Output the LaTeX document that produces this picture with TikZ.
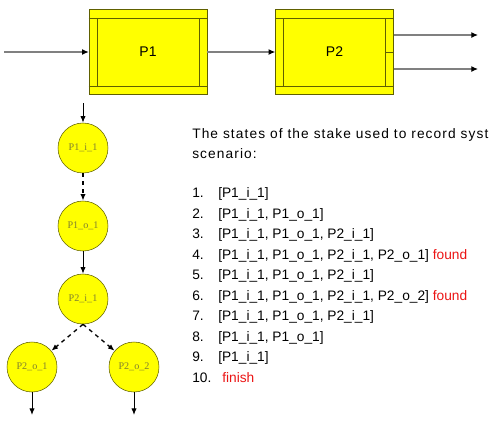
\documentclass[tikz,border=0pt]{standalone}
\usepackage{fontspec}
\setmainfont{Liberation Sans}
\newfontfamily\statefont{Liberation Serif}
\usetikzlibrary{positioning,calc,arrows.meta}
\definecolor{boxyellow}{RGB}{255,255,0}
\definecolor{edgeolive}{RGB}{96,96,0}
\definecolor{labelolive}{RGB}{128,128,48}
\definecolor{wiregray}{RGB}{128,128,128}
\definecolor{foundred}{RGB}{235,20,20}

\begin{document}
\begin{tikzpicture}[
    x=0.75pt, y=-0.75pt,
    procbox/.style={
      draw=edgeolive, fill=boxyellow, inner sep=0pt,
      minimum width=88.5pt, minimum height=63.75pt,
      font=\fontsize{10.5}{12}\selectfont
    },
    state/.style={
      circle, draw=edgeolive, fill=boxyellow, inner sep=0pt,
      minimum size=37.5pt, text=labelolive,
      font=\statefont\fontsize{7.6}{9}\selectfont
    },
    wire/.style={draw=wiregray, line width=0.9pt, -{Latex[length=5pt,width=4.5pt,color=black]}},
    hop/.style={draw=black, line width=0.7pt, -{Latex[length=5pt,width=4pt]}},
    jump/.style={hop, dashed, line width=1pt},
    listline/.style={anchor=base west, inner sep=0pt, font=\fontsize{10.3}{12}\selectfont}
  ]
  \clip (0,0) rectangle (495,437);

  % the two processes
  \node[procbox] (p1) at (148,52) {P1};
  \node[procbox] (p2) at (334.5,52) {P2};
  \foreach \b in {p1,p2} {
    \draw[edgeolive, line width=0.5pt] ($(\b.north west)+(0,9)$) -- ($(\b.north east)+(0,9)$);
    \draw[edgeolive, line width=0.5pt] ($(\b.south west)+(0,-8)$) -- ($(\b.south east)+(0,-8)$);
    \draw[edgeolive, line width=0.5pt] ($(\b.north west)+(8.5,9)$) -- ($(\b.south west)+(8.5,-8)$);
    \draw[edgeolive, line width=0.5pt] ($(\b.north east)+(-8,9)$) -- ($(\b.south east)+(-8,-8)$);
  }
  \draw[edgeolive, line width=0.5pt] (p2.east) -- ++(-8,0);

  \coordinate (src) at (4,52);
  \coordinate (sink1) at (478,35);
  \coordinate (sink2) at (478,69);
  \draw[wire] (src) -- (p1);
  \draw[wire] (p1) -- (p2);
  \draw[wire] (p2.east |- sink1) -- (sink1);
  \draw[wire] (p2.east |- sink2) -- (sink2);

  % state tree
  \node[state] (i11) at (83,148) {P1\_i\_1};
  \node[state] (o11) at (83,226) {P1\_o\_1};
  \node[state] (i21) at (83,299) {P2\_i\_1};
  \node[state] (o21) at (32,367) {P2\_o\_1};
  \node[state] (o22) at (134,367) {P2\_o\_2};
  \coordinate (enter) at (83,103);
  \coordinate (leave1) at (32,415);
  \coordinate (leave2) at (134,415);
  \draw[hop] (enter) -- (i11);
  \draw[jump] (i11) -- (o11);
  \draw[hop] (o11) -- (i21);
  \draw[jump] (i21.south) -- (o21);
  \draw[jump] (i21.south) -- (o22);
  \draw[hop] (o21) -- (leave1);
  \draw[hop] (o22) -- (leave2);

  % stack trace
  \node[listline] (head1) at (192,138) {\addfontfeatures{LetterSpace=8}The states of the stake used to record syst};
  \node[listline] (head2) at (192,158.5) {\addfontfeatures{LetterSpace=8}scenario:};
  \foreach \n/\entry in {
      1/{[P1\_i\_1]},
      2/{[P1\_i\_1, P1\_o\_1]},
      3/{[P1\_i\_1, P1\_o\_1, P2\_i\_1]},
      4/{[P1\_i\_1, P1\_o\_1, P2\_i\_1, P2\_o\_1] \textcolor{foundred}{found}},
      5/{[P1\_i\_1, P1\_o\_1, P2\_i\_1]},
      6/{[P1\_i\_1, P1\_o\_1, P2\_i\_1, P2\_o\_2] \textcolor{foundred}{found}},
      7/{[P1\_i\_1, P1\_o\_1, P2\_i\_1]},
      8/{[P1\_i\_1, P1\_o\_1]},
      9/{[P1\_i\_1]}} {
    \node[listline] (num\n) at (192,{197.5+20.5*(\n-1)}) {\n.};
    \node[listline] (row\n) at (218,{197.5+20.5*(\n-1)}) {\entry};
  }
  \node[listline] (num10) at (192,382) {10.};
  \node[listline, text=foundred] (row10) at (222,382) {finish};
\end{tikzpicture}
\end{document}
